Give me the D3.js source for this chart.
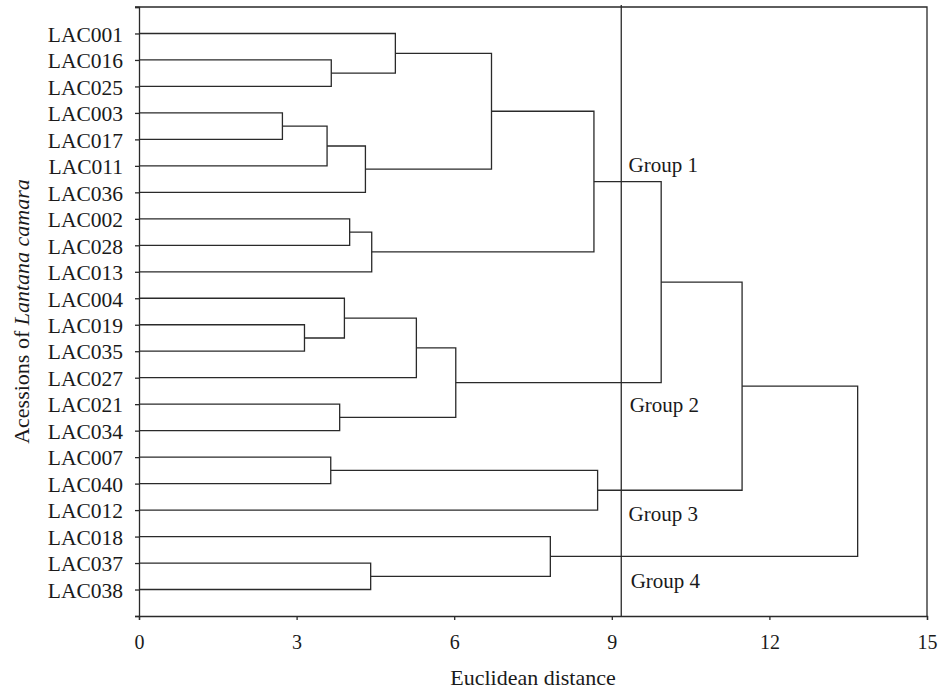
<!DOCTYPE html>
<html>
<head>
<meta charset="utf-8">
<script src="https://cdn.jsdelivr.net/npm/d3@7"></script>
<style>
  body { margin: 0; background: #fff; }
  svg { display: block; font-family: "Liberation Serif", "Times New Roman", serif; }
  .axis path, .axis line { stroke: #2a2a2a; stroke-width: 1.3; }
  .axis text { fill: #1a1a1a; }
  .link { fill: none; stroke: #2a2a2a; stroke-width: 1.3; }
</style>
</head>
<body>
<svg id="chart"></svg>
<script>
// leaves, top to bottom
const leaves = ["LAC001", "LAC016", "LAC025", "LAC003", "LAC017", "LAC011", "LAC036",
  "LAC002", "LAC028", "LAC013", "LAC004", "LAC019", "LAC035", "LAC027", "LAC021",
  "LAC034", "LAC007", "LAC040", "LAC012", "LAC018", "LAC037", "LAC038"];

// merges: [left, right, distance]; "mN" refers to the N-th merge
const merges = [
  ["LAC016", "LAC025", 3.66],
  ["LAC001", "m0", 4.88],
  ["LAC003", "LAC017", 2.73],
  ["m2", "LAC011", 3.58],
  ["m3", "LAC036", 4.31],
  ["m1", "m4", 6.71],
  ["LAC002", "LAC028", 4.01],
  ["m6", "LAC013", 4.43],
  ["m5", "m7", 8.66],
  ["LAC019", "LAC035", 3.15],
  ["LAC004", "m9", 3.91],
  ["m10", "LAC027", 5.28],
  ["LAC021", "LAC034", 3.82],
  ["m11", "m12", 6.03],
  ["m8", "m13", 9.94],
  ["LAC007", "LAC040", 3.65],
  ["m15", "LAC012", 8.73],
  ["m14", "m16", 11.48],
  ["LAC037", "LAC038", 4.41],
  ["LAC018", "m18", 7.83],
  ["m17", "m19", 13.68]
];

const cutoff = 9.18;
const xTicks = [0, 3, 6, 9, 12, 15];
const groupNames = ["Group 1", "Group 2", "Group 3", "Group 4"];

const dimensions = {
  width: 941,
  height: 690,
  margin: { top: 7, right: 14, bottom: 74, left: 139 }
};
dimensions.boundedWidth = dimensions.width - dimensions.margin.left - dimensions.margin.right;
dimensions.boundedHeight = dimensions.height - dimensions.margin.top - dimensions.margin.bottom;

const svg = d3.select("#chart")
  .attr("width", dimensions.width)
  .attr("height", dimensions.height);

const bounds = svg.append("g")
  .attr("transform", `translate(${dimensions.margin.left},${dimensions.margin.top})`);

const xScale = d3.scaleLinear()
  .domain([0, 15])
  .range([0, dimensions.boundedWidth]);

// one slot per leaf plus an empty slot top and bottom
const nRows = leaves.length + 1;
const yScale = d3.scaleLinear()
  .domain([0, nRows])
  .range([dimensions.boundedHeight, 0]);

// node positions
const nodes = {};
leaves.forEach((name, i) => {
  nodes[name] = { h: 0, y: yScale(nRows - 1 - i) };
});
merges.forEach(([a, b, h], i) => {
  nodes["m" + i] = { h, y: (nodes[a].y + nodes[b].y) / 2, a, b };
});

// frame (top and right)
bounds.append("path")
  .attr("class", "link")
  .attr("d", `M${xScale(0) - 4},${yScale(nRows)}H${xScale(15)}V${yScale(0)}`);

// links
bounds.append("g")
  .selectAll("path")
  .data(merges.map((m, i) => nodes["m" + i]))
  .join("path")
  .attr("class", "link")
  .attr("d", d => {
    const l = nodes[d.a], r = nodes[d.b];
    return `M${xScale(l.h)},${l.y}H${xScale(d.h)}V${r.y}H${xScale(r.h)}`;
  });

// cut-off line
bounds.append("line")
  .attr("class", "link")
  .attr("x1", xScale(cutoff)).attr("x2", xScale(cutoff))
  .attr("y1", yScale(nRows) - 2).attr("y2", yScale(0));

// axes
const yAxis = d3.axisLeft(yScale)
  .tickValues(d3.range(0, nRows + 1))
  .tickSize(4)
  .tickPadding(12)
  .tickFormat(v => (v >= 1 && v <= leaves.length) ? leaves[nRows - 1 - v] : "");

bounds.append("g")
  .attr("class", "axis")
  .call(yAxis)
  .call(g => g.selectAll("text").attr("font-size", 21.5).attr("dy", "0.36em"))
  .call(g => g.attr("font-family", null));

const xAxis = d3.axisBottom(xScale)
  .tickValues(xTicks)
  .tickSize(4)
  .tickPadding(15)
  .tickFormat(d3.format("d"));

bounds.append("g")
  .attr("class", "axis")
  .attr("transform", `translate(0,${dimensions.boundedHeight})`)
  .call(xAxis)
  .call(g => g.selectAll("text").attr("font-size", 20))
  .call(g => g.attr("font-family", null));

// group labels
const groupPos = [[9.32, 16.76], [9.34, 7.72], [9.32, 3.6], [9.36, 1.05]];
bounds.append("g")
  .selectAll("text")
  .data(groupNames)
  .join("text")
  .attr("x", (d, i) => xScale(groupPos[i][0]))
  .attr("y", (d, i) => yScale(groupPos[i][1]))
  .attr("font-size", 21)
  .attr("fill", "#1a1a1a")
  .text(d => d);

// axis titles
svg.append("text")
  .attr("x", dimensions.margin.left + dimensions.boundedWidth / 2)
  .attr("y", 685)
  .attr("text-anchor", "middle")
  .attr("font-size", 22)
  .attr("fill", "#1a1a1a")
  .text("Euclidean distance");

const yTitle = svg.append("text")
  .attr("transform", `translate(28.5,${dimensions.margin.top + dimensions.boundedHeight / 2}) rotate(-90)`)
  .attr("text-anchor", "middle")
  .attr("font-size", 22)
  .attr("fill", "#1a1a1a");
yTitle.append("tspan").text("Acessions of ");
yTitle.append("tspan").attr("font-style", "italic").text("Lantana camara");
</script>
</body>
</html>
